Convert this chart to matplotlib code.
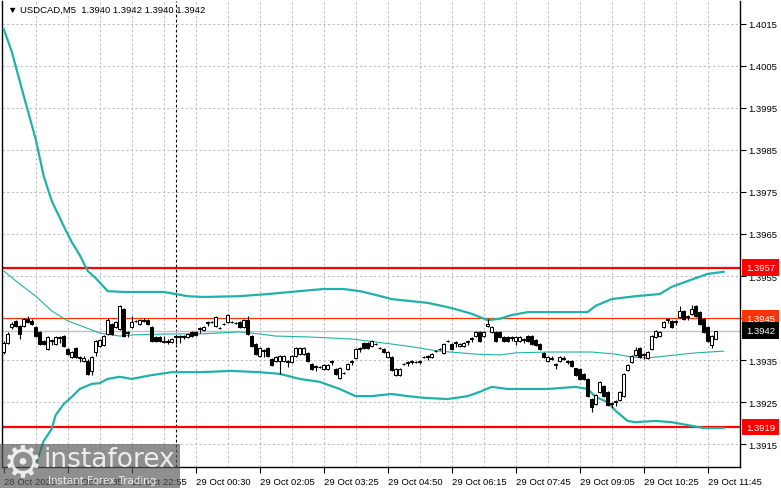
import matplotlib
matplotlib.use("Agg")
import matplotlib.pyplot as plt
import matplotlib.transforms as mtransforms
from matplotlib.patches import Rectangle
import numpy as np

# ---------------- data ----------------
symbol_title = "\u25BC USDCAD,M5  1.3940 1.3942 1.3940 1.3942"

opens = [1.39370, 1.39390, 1.39429, 1.39443, 1.39430, 1.39430, 1.39448, 1.39443, 1.39428, 1.39417,
         1.39395, 1.39376, 1.39395, 1.39388, 1.39402, 1.39407, 1.39376, 1.39357, 1.39379, 1.39355,
         1.39348, 1.39348, 1.39324, 1.39369, 1.39383, 1.39386, 1.39412, 1.39436, 1.39429, 1.39424,
         1.39471, 1.39415, 1.39429, 1.39443, 1.39436, 1.39443, 1.39445, 1.39429, 1.39405, 1.39405,
         1.39393, 1.39395, 1.39393, 1.39405, 1.39405, 1.39405, 1.39405, 1.39417, 1.39417, 1.39424,
         1.39422, 1.39438, 1.39440, 1.39431, 1.39426, 1.39435, 1.39440, 1.39440, 1.39438, 1.39440,
         1.39429, 1.39445, 1.39407, 1.39388, 1.39360, 1.39372, 1.39379, 1.39352, 1.39348, 1.39348,
         1.39348, 1.39346, 1.39345, 1.39360, 1.39364, 1.39364, 1.39367, 1.39340, 1.39334, 1.39333,
         1.39329, 1.39329, 1.39346, 1.39329, 1.39307, 1.39319, 1.39329, 1.39346, 1.39355, 1.39377,
         1.39390, 1.39390, 1.39383, 1.39388, 1.39379, 1.39376, 1.39357, 1.39357, 1.39314, 1.39314,
         1.39340, 1.39343, 1.39345, 1.39345, 1.39345, 1.39357, 1.39358, 1.39357, 1.39371, 1.39376,
         1.39367, 1.39395, 1.39388, 1.39390, 1.39383, 1.39383, 1.39393, 1.39400, 1.39407, 1.39417,
         1.39407, 1.39430, 1.39417, 1.39417, 1.39417, 1.39405, 1.39405, 1.39403, 1.39395, 1.39395,
         1.39398, 1.39407, 1.39407, 1.39398, 1.39388, 1.39367, 1.39348, 1.39352, 1.39338, 1.39348,
         1.39355, 1.39346, 1.39348, 1.39330, 1.39329, 1.39317, 1.39305, 1.39257, 1.39245, 1.39274,
         1.39288, 1.39274, 1.39245, 1.39250, 1.39255, 1.39264, 1.39326, 1.39345, 1.39362, 1.39379,
         1.39362, 1.39355, 1.39376, 1.39405, 1.39407, 1.39429, 1.39446, 1.39443, 1.39441, 1.39452,
         1.39467, 1.39453, 1.39460, 1.39479, 1.39464, 1.39448, 1.39429, 1.39386, 1.39400]

closes = [1.39390, 1.39412, 1.39436, 1.39430, 1.39412, 1.39448, 1.39440, 1.39436, 1.39408, 1.39388,
          1.39388, 1.39404, 1.39398, 1.39404, 1.39404, 1.39383, 1.39364, 1.39369, 1.39357, 1.39357,
          1.39355, 1.39317, 1.39357, 1.39395, 1.39398, 1.39407, 1.39445, 1.39412, 1.39440, 1.39479,
          1.39407, 1.39417, 1.39440, 1.39443, 1.39445, 1.39445, 1.39436, 1.39395, 1.39395, 1.39395,
          1.39395, 1.39393, 1.39400, 1.39407, 1.39407, 1.39407, 1.39412, 1.39407, 1.39409, 1.39426,
          1.39429, 1.39440, 1.39440, 1.39452, 1.39426, 1.39435, 1.39457, 1.39440, 1.39438, 1.39429,
          1.39445, 1.39412, 1.39383, 1.39364, 1.39379, 1.39374, 1.39360, 1.39338, 1.39357, 1.39360,
          1.39360, 1.39348, 1.39360, 1.39379, 1.39379, 1.39379, 1.39348, 1.39329, 1.39336, 1.39333,
          1.39338, 1.39338, 1.39348, 1.39317, 1.39331, 1.39319, 1.39340, 1.39348, 1.39376, 1.39379,
          1.39379, 1.39379, 1.39395, 1.39388, 1.39379, 1.39369, 1.39369, 1.39326, 1.39329, 1.39329,
          1.39340, 1.39345, 1.39348, 1.39345, 1.39348, 1.39357, 1.39360, 1.39364, 1.39371, 1.39376,
          1.39388, 1.39395, 1.39376, 1.39393, 1.39388, 1.39390, 1.39395, 1.39402, 1.39417, 1.39395,
          1.39417, 1.39435, 1.39429, 1.39395, 1.39405, 1.39395, 1.39395, 1.39405, 1.39405, 1.39405,
          1.39400, 1.39395, 1.39388, 1.39386, 1.39376, 1.39357, 1.39357, 1.39355, 1.39340, 1.39357,
          1.39352, 1.39348, 1.39336, 1.39314, 1.39305, 1.39305, 1.39264, 1.39238, 1.39267, 1.39298,
          1.39264, 1.39243, 1.39247, 1.39252, 1.39274, 1.39317, 1.39338, 1.39360, 1.39374, 1.39357,
          1.39364, 1.39369, 1.39407, 1.39419, 1.39417, 1.39440, 1.39448, 1.39429, 1.39443, 1.39467,
          1.39448, 1.39455, 1.39471, 1.39455, 1.39436, 1.39417, 1.39395, 1.39407, 1.39420]

highs = [1.39395, 1.39417, 1.39440, 1.39446, 1.39433, 1.39451, 1.39455, 1.39448, 1.39431, 1.39420,
         1.39398, 1.39406, 1.39400, 1.39406, 1.39406, 1.39409, 1.39378, 1.39371, 1.39381, 1.39359,
         1.39359, 1.39352, 1.39359, 1.39397, 1.39400, 1.39409, 1.39450, 1.39438, 1.39442, 1.39481,
         1.39473, 1.39419, 1.39455, 1.39445, 1.39447, 1.39450, 1.39447, 1.39431, 1.39407, 1.39407,
         1.39407, 1.39400, 1.39402, 1.39409, 1.39409, 1.39409, 1.39414, 1.39419, 1.39419, 1.39428,
         1.39431, 1.39442, 1.39442, 1.39454, 1.39428, 1.39437, 1.39459, 1.39442, 1.39440, 1.39442,
         1.39447, 1.39455, 1.39409, 1.39390, 1.39381, 1.39376, 1.39381, 1.39354, 1.39359, 1.39362,
         1.39362, 1.39350, 1.39362, 1.39381, 1.39381, 1.39381, 1.39369, 1.39342, 1.39338, 1.39335,
         1.39340, 1.39340, 1.39350, 1.39331, 1.39333, 1.39321, 1.39342, 1.39350, 1.39378, 1.39381,
         1.39392, 1.39392, 1.39397, 1.39390, 1.39381, 1.39378, 1.39371, 1.39359, 1.39331, 1.39331,
         1.39342, 1.39347, 1.39350, 1.39347, 1.39350, 1.39359, 1.39362, 1.39366, 1.39373, 1.39378,
         1.39390, 1.39397, 1.39390, 1.39395, 1.39390, 1.39392, 1.39397, 1.39404, 1.39419, 1.39419,
         1.39419, 1.39448, 1.39431, 1.39419, 1.39419, 1.39407, 1.39407, 1.39407, 1.39407, 1.39407,
         1.39402, 1.39409, 1.39409, 1.39400, 1.39390, 1.39369, 1.39359, 1.39360, 1.39342, 1.39359,
         1.39359, 1.39350, 1.39350, 1.39332, 1.39331, 1.39319, 1.39307, 1.39259, 1.39269, 1.39300,
         1.39290, 1.39276, 1.39249, 1.39254, 1.39276, 1.39319, 1.39340, 1.39362, 1.39380, 1.39381,
         1.39366, 1.39371, 1.39409, 1.39421, 1.39419, 1.39442, 1.39450, 1.39445, 1.39445, 1.39479,
         1.39469, 1.39457, 1.39480, 1.39481, 1.39466, 1.39450, 1.39431, 1.39409, 1.39420]

lows = [1.39365, 1.39388, 1.39425, 1.39428, 1.39400, 1.39428, 1.39438, 1.39434, 1.39405, 1.39385,
        1.39386, 1.39374, 1.39385, 1.39386, 1.39390, 1.39381, 1.39362, 1.39355, 1.39355, 1.39345,
        1.39346, 1.39314, 1.39314, 1.39360, 1.39381, 1.39384, 1.39410, 1.39410, 1.39427, 1.39422,
        1.39405, 1.39405, 1.39427, 1.39441, 1.39434, 1.39441, 1.39434, 1.39393, 1.39393, 1.39393,
        1.39391, 1.39388, 1.39391, 1.39388, 1.39390, 1.39400, 1.39403, 1.39405, 1.39407, 1.39415,
        1.39420, 1.39430, 1.39438, 1.39429, 1.39424, 1.39433, 1.39438, 1.39438, 1.39436, 1.39427,
        1.39427, 1.39410, 1.39381, 1.39362, 1.39358, 1.39357, 1.39358, 1.39336, 1.39346, 1.39317,
        1.39346, 1.39333, 1.39343, 1.39358, 1.39362, 1.39362, 1.39346, 1.39327, 1.39324, 1.39331,
        1.39327, 1.39327, 1.39338, 1.39315, 1.39305, 1.39317, 1.39327, 1.39338, 1.39353, 1.39370,
        1.39377, 1.39377, 1.39381, 1.39386, 1.39377, 1.39367, 1.39355, 1.39324, 1.39312, 1.39312,
        1.39338, 1.39336, 1.39340, 1.39343, 1.39340, 1.39355, 1.39350, 1.39355, 1.39369, 1.39374,
        1.39365, 1.39393, 1.39374, 1.39380, 1.39381, 1.39381, 1.39385, 1.39393, 1.39405, 1.39393,
        1.39405, 1.39428, 1.39415, 1.39393, 1.39403, 1.39393, 1.39393, 1.39395, 1.39385, 1.39393,
        1.39390, 1.39393, 1.39386, 1.39384, 1.39374, 1.39355, 1.39346, 1.39350, 1.39328, 1.39346,
        1.39350, 1.39340, 1.39334, 1.39312, 1.39303, 1.39303, 1.39262, 1.39226, 1.39243, 1.39272,
        1.39262, 1.39241, 1.39235, 1.39240, 1.39253, 1.39262, 1.39324, 1.39343, 1.39360, 1.39355,
        1.39352, 1.39353, 1.39374, 1.39403, 1.39405, 1.39427, 1.39438, 1.39427, 1.39433, 1.39450,
        1.39446, 1.39445, 1.39458, 1.39453, 1.39434, 1.39415, 1.39393, 1.39379, 1.39400]

# Bollinger bands (at sample bars)
upper_x = [0, 2, 5, 8, 10, 12, 15, 17, 19, 21, 23, 26, 30, 35, 40, 46, 50, 59, 66, 74,
           80, 85, 89, 93, 97, 102, 106, 110, 113, 117, 121, 124, 127, 131, 140, 146, 148, 152,
           158, 164, 167, 171, 176, 180]
upper_band = [1.40138, 1.40085, 1.39979, 1.39876, 1.39788, 1.39729, 1.39669, 1.39631, 1.39600, 1.39562,
              1.39545, 1.39514, 1.39512, 1.39512, 1.39512, 1.39502, 1.39500, 1.39502, 1.39507, 1.39514,
              1.39519, 1.39519, 1.39514, 1.39505, 1.39495, 1.39490, 1.39486, 1.39478, 1.39471, 1.39460,
              1.39445, 1.39448, 1.39457, 1.39464, 1.39464, 1.39464, 1.39479, 1.39495, 1.39502, 1.39507,
              1.39524, 1.39538, 1.39555, 1.39560]
middle_x = [0, 4, 8, 12, 16, 20, 24, 29, 33, 41, 49, 59, 64, 68, 76, 87, 93, 101, 109, 118,
            124, 128, 136, 147, 153, 157, 161, 166, 173, 180]
middle_band = [1.39562, 1.39531, 1.39502, 1.39467, 1.39443, 1.39429, 1.39414, 1.39407, 1.39410, 1.39412,
               1.39412, 1.39417, 1.39412, 1.39407, 1.39405, 1.39400, 1.39393, 1.39383, 1.39371, 1.39364,
               1.39362, 1.39367, 1.39369, 1.39369, 1.39364, 1.39357, 1.39355, 1.39360, 1.39367, 1.39371]
lower_x = [0, 4, 8, 10, 12, 13, 15, 17, 19, 22, 24, 26, 29, 32, 37, 42, 49, 57, 64, 69,
           74, 79, 84, 88, 92, 97, 101, 105, 111, 116, 119, 122, 126, 136, 143, 146, 148, 151,
           153, 156, 158, 163, 167, 171, 175, 180]
lower_band = [1.39007, 1.39055, 1.39100, 1.39157, 1.39186, 1.39219, 1.39245, 1.39262, 1.39281, 1.39293,
              1.39295, 1.39305, 1.39310, 1.39305, 1.39314, 1.39321, 1.39321, 1.39324, 1.39321, 1.39317,
              1.39305, 1.39298, 1.39281, 1.39264, 1.39264, 1.39269, 1.39264, 1.39260, 1.39257, 1.39264,
              1.39274, 1.39286, 1.39281, 1.39281, 1.39286, 1.39281, 1.39262, 1.39250, 1.39229, 1.39205,
              1.39202, 1.39205, 1.39202, 1.39195, 1.39188, 1.39188]

# horizontal levels
level_prices = [1.3957, 1.3945, 1.3919]
level_labels = ["1.3957", "1.3945", "1.3919"]
bid_price = 1.3942
bid_label = "1.3942"

price_ticks = [1.3915, 1.3925, 1.3935, 1.3945, 1.3955, 1.3965, 1.3975, 1.3985, 1.3995, 1.4005, 1.4015]
time_tick_bars = [0, 16, 32, 48, 64, 80, 96, 112, 128, 144, 160, 176]
time_tick_labels = ["28 Oct 2025", "28 Oct 21:35", "28 Oct 22:55", "29 Oct 00:30", "29 Oct 02:05",
                    "29 Oct 03:25", "29 Oct 04:50", "29 Oct 06:15", "29 Oct 07:45", "29 Oct 09:05",
                    "29 Oct 10:25", "29 Oct 11:45"]
separator_bar = 43

# ---------------- figure ----------------
plt.rcParams["font.family"] = ["Liberation Sans", "DejaVu Sans"]

W, H = 781, 489
fig = plt.figure(figsize=(W / 100, H / 100), dpi=100)
fig.patch.set_facecolor("white")
ax = fig.add_axes([2 / W, 21 / H, (740 - 2) / W, (468 - 2) / H])
ax.set_facecolor("white")

ax.set_xlim(-0.42, 184.1)
ax.set_ylim(1.3909524, 1.4020476)

TEAL = "#20B2AA"
FS = 6.8

# grid
for gx in range(8, 184, 8):
    ax.axvline(gx, color="#c0c0c0", lw=0.75, dashes=(2.2, 2.2), zorder=1)
for p in price_ticks:
    ax.axhline(p, color="#c0c0c0", lw=0.75, dashes=(2.2, 2.2), zorder=1)

# separator
ax.axvline(separator_bar, color="black", lw=0.8, dashes=(2.5, 2.0), zorder=2)

# bid line
ax.axhline(bid_price, color="#c0c0c0", lw=1.0, zorder=2)

# levels
ax.axhline(level_prices[0], color="#ff0000", lw=1.6, zorder=2)
ax.axhline(level_prices[1], color="#ff3300", lw=0.9, zorder=2)
ax.axhline(level_prices[2], color="#ff0000", lw=1.6, zorder=2)

# bands
ax.plot(upper_x, upper_band, color=TEAL, lw=1.6, zorder=3, solid_joinstyle="round")
ax.plot(middle_x, middle_band, color=TEAL, lw=0.8, zorder=3)
ax.plot(lower_x, lower_band, color=TEAL, lw=1.6, zorder=3, solid_joinstyle="round")

# candles
for i, (o, h, l, c) in enumerate(zip(opens, highs, lows, closes)):
    hi = max(h, o, c)
    lo = min(l, o, c)
    ax.vlines(i, lo, hi, color="black", lw=0.8, zorder=4)
    if abs(c - o) < 1e-7:
        ax.hlines(o, i - 0.4, i + 0.4, color="black", lw=0.8, zorder=5)
    else:
        fc = "white" if c > o else "black"
        ax.add_patch(Rectangle((i - 0.36, min(o, c)), 0.72, abs(c - o),
                               facecolor=fc, edgecolor="black", lw=0.75, zorder=5))

# axes styling
ax.spines["top"].set_visible(False)
for s in ["left", "right", "bottom"]:
    ax.spines[s].set_color("black")
    ax.spines[s].set_linewidth(1.0)

ax.yaxis.tick_right()
ax.set_yticks(price_ticks)
# the 1.3945 tick label is hidden under the level box in the reference
ax.set_yticklabels(["" if abs(p - level_prices[1]) < 1e-9 else f"{p:.4f}" for p in price_ticks])
ax.tick_params(axis="y", direction="out", length=4, width=0.8, labelsize=FS, pad=2, colors="black")

ax.set_xticks(time_tick_bars)
ax.set_xticklabels(time_tick_labels)
ax.tick_params(axis="x", direction="out", length=4, width=0.8, labelsize=FS, pad=3, colors="black")
for lbl in ax.get_xticklabels():
    lbl.set_horizontalalignment("left")

# price boxes on right axis
trans = mtransforms.blended_transform_factory(ax.transAxes, ax.transData)
box_colors = ["#ff0000", "#ff3300", "#ff0000"]
for p, t, bc in zip(level_prices, level_labels, box_colors):
    ax.text(1.0 + 6 / 738, p, t, transform=trans, ha="left", va="center", fontsize=FS,
            color="white", clip_on=False, zorder=10,
            bbox=dict(boxstyle="square,pad=0.4", facecolor=bc, edgecolor="none"))
ax.text(1.0 + 6 / 738, bid_price, bid_label, transform=trans, ha="left", va="center", fontsize=FS,
        color="white", clip_on=False, zorder=10,
        bbox=dict(boxstyle="square,pad=0.4", facecolor="black", edgecolor="none"))

# title
fig.text(8 / W, 1 - 10 / H, symbol_title, ha="left", va="center", fontsize=FS, color="black",
         family=["DejaVu Sans"] if False else None)

# watermark
fig.patches.append(Rectangle((0, 0), 180 / W, 44 / H, transform=fig.transFigure,
                             facecolor="#5a5a5a", alpha=0.68, edgecolor="none", zorder=20))
fig.text(3 / W, 1 - 464 / H, "\u2699", ha="left", va="center", fontsize=32,
         color="white", alpha=0.85, zorder=21, family=["DejaVu Sans"])
fig.text(44 / W, 1 - 460 / H, "instaforex", ha="left", va="center", fontsize=19,
         color="white", alpha=0.85, zorder=21, family=["DejaVu Sans"])
fig.text(48 / W, 1 - 481 / H, "Instant Forex Trading", ha="left", va="center", fontsize=7.4,
         color="white", alpha=0.85, zorder=21, family=["DejaVu Sans"])

fig.savefig("out.png", dpi=100, facecolor="white")
